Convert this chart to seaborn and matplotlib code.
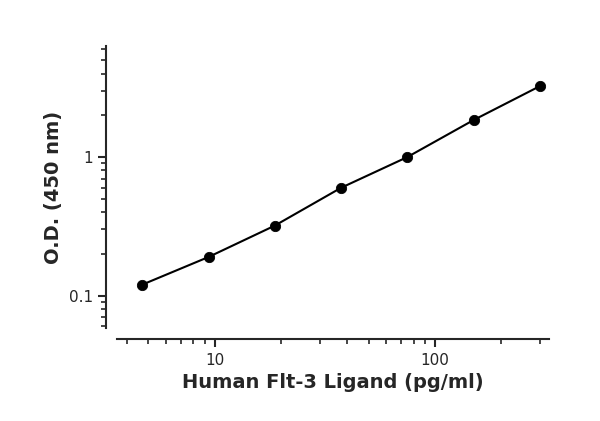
import matplotlib
matplotlib.use("Agg")
import matplotlib.pyplot as plt
import seaborn as sns
import numpy as np
from matplotlib.ticker import FixedLocator, LogLocator, NullFormatter

conc = [4.69, 9.38, 18.75, 37.5, 75, 150, 300]
od = [0.12, 0.19, 0.32, 0.60, 1.00, 1.85, 3.25]
xticks = [10, 100]
yticks = [0.1, 1]

sns.set_style("ticks")
plt.rcParams['font.family'] = ['DejaVu Sans']
fig = plt.figure(figsize=(6, 4.21), dpi=100)
ax = fig.add_axes([0.195, 0.22, 0.72, 0.67])
xs = np.geomspace(min(conc), max(conc), 100)
ys = np.exp(np.interp(np.log(xs), np.log(conc), np.log(od)))
sns.lineplot(x=xs, y=ys, ax=ax, color="black", lw=1.5)
sns.scatterplot(x=conc, y=od, ax=ax, color="black", s=55, zorder=3, edgecolor="black")
ax.set_xscale("log"); ax.set_yscale("log")
ax.set_xlim(3.6, 330); ax.set_ylim(0.058, 6.3)
ax.xaxis.set_major_locator(FixedLocator(xticks))
ax.yaxis.set_major_locator(FixedLocator(yticks))
ax.set_xticklabels(["10", "100"]); ax.set_yticklabels(["0.1", "1"])
ax.xaxis.set_minor_locator(LogLocator(subs=np.arange(2, 10)))
ax.yaxis.set_minor_locator(LogLocator(subs=np.arange(2, 10)))
ax.xaxis.set_minor_formatter(NullFormatter()); ax.yaxis.set_minor_formatter(NullFormatter())
sns.despine(ax=ax, offset=8)
for s in ["left", "bottom"]:
    ax.spines[s].set_linewidth(1.5)
ax.tick_params(which="major", length=6, width=1.5, labelsize=11)
ax.tick_params(which="minor", length=3.5, width=1.2)
ax.set_xlabel("Human Flt-3 Ligand (pg/ml)", fontsize=14, fontweight="bold")
ax.set_ylabel("O.D. (450 nm)", fontsize=14, fontweight="bold")
fig.savefig("out.png", dpi=100)
